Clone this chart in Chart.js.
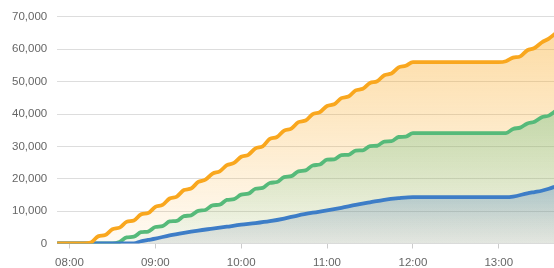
<!DOCTYPE html>
<html><head><meta charset="utf-8">
<script src="https://cdn.jsdelivr.net/npm/chart.js@4.4.1/dist/chart.umd.min.js"></script>
<style>html,body{margin:0;padding:0;background:#fff;}canvas{display:block;}</style>
</head><body>
<canvas id="c" width="554" height="268"></canvas>
<script>
const times = ['07:50','07:55','08:00','08:05','08:10','08:15','08:20','08:25','08:30','08:35','08:40','08:45','08:50','08:55',
'09:00','09:05','09:10','09:15','09:20','09:25','09:30','09:35','09:40','09:45','09:50','09:55',
'10:00','10:05','10:10','10:15','10:20','10:25','10:30','10:35','10:40','10:45','10:50','10:55',
'11:00','11:05','11:10','11:15','11:20','11:25','11:30','11:35','11:40','11:45','11:50','11:55',
'12:00','12:05','12:10','12:15','12:20','12:25','12:30','12:35','12:40','12:45','12:50','12:55',
'13:00','13:05','13:10','13:15','13:20','13:25','13:30','13:35','13:40'];
const orangeValues = [0,0,0,0,0,300,2200,2600,4400,4900,6700,7100,9000,9400,
11300,11900,13900,14500,16500,17000,19000,19700,21600,22300,24200,24900,
26800,27400,29400,30000,32300,32900,34900,35500,37500,38000,40000,40600,
42500,43000,44900,45400,47300,47800,49600,50100,52000,52500,54400,54900,
56000,56000,56000,56000,56000,56000,56000,56000,56000,56000,56000,56000,
56000,56300,57400,57800,59700,60400,62100,63300,65000];
const greenValues = [0,0,0,0,0,0,0,0,0,500,1900,2100,3500,3700,
5100,5350,6800,7000,8450,8700,10100,10350,11800,12000,13450,13700,
15100,15400,16900,17200,18700,19000,20500,20800,22300,22600,24100,24400,
25900,26000,27300,27400,28700,28800,30100,30200,31500,31600,32900,33000,
34100,34100,34100,34100,34100,34100,34100,34100,34100,34100,34100,34100,
34100,34100,35400,35800,37100,37600,39000,39500,41000];
const blueTimes = ['07:50','08:40','08:45','08:50','08:55','09:00','09:10','09:20','09:30','09:40','09:50',
'10:00','10:10','10:20','10:30','10:40','10:50','11:00','11:10','11:20','11:30','11:40','11:50','12:00',
'13:05','13:10','13:20','13:25','13:30','13:35','13:40'];
const blueValues = [0,0,0,700,1100,1500,2500,3300,4000,4600,5200,
5800,6300,6900,7700,8700,9500,10200,11000,11900,12700,13500,14000,14300,
14300,14500,15500,15900,16300,16900,17700];
const xTickLabels = ['08:00','09:00','10:00','11:00','12:00','13:00'];

function toMin(s){const p=s.split(':').map(Number);return p[0]*60+p[1];}
const pts = (ts, vs) => ts.map((t,i)=>({x:toMin(t), y:vs[i]}));

function grad(rgbTop, aTop, rgbBot, aBot, vals){
  const maxVal = Math.max.apply(null, vals);
  return (ctx) => {
    const chart = ctx.chart; if(!chart.chartArea) return 'rgba(0,0,0,0)';
    const y = chart.scales.y;
    const top = y.getPixelForValue(maxVal), bot = y.getPixelForValue(0);
    const g = chart.ctx.createLinearGradient(0, top, 0, bot);
    g.addColorStop(0, 'rgba(' + rgbTop + ',' + aTop + ')');
    g.addColorStop(1, 'rgba(' + rgbBot + ',' + aBot + ')');
    return g;
  };
}
const ORANGE = '249,167,30', GREEN = '86,186,122', BLUE = '61,125,199';
const common = {pointRadius:0, cubicInterpolationMode:'monotone', borderJoinStyle:'round', borderCapStyle:'round'};
const orangeData = pts(times, orangeValues), greenData = pts(times, greenValues), blueData = pts(blueTimes, blueValues);
const FONT = {family:'Liberation Sans, Arial, sans-serif', size:11.5};

new Chart(document.getElementById('c'), {
  type: 'line',
  data: { datasets: [
    Object.assign({label:'orange line', data: orangeData, borderColor:'rgb('+ORANGE+')', borderWidth:3.8, fill:false, order:1}, common),
    Object.assign({label:'blue line', data: blueData, borderColor:'rgb('+BLUE+')', borderWidth:3.8, fill:false, order:2}, common),
    Object.assign({label:'green line', data: greenData, borderColor:'rgb('+GREEN+')', borderWidth:3.8, fill:false, order:3}, common),
    Object.assign({label:'blue area', data: blueData, borderWidth:0, borderColor:'rgba(0,0,0,0)', fill:'origin', backgroundColor: grad(BLUE,0.32,'120,135,150',0.15, blueValues), order:10}, common),
    Object.assign({label:'green area', data: greenData, borderWidth:0, borderColor:'rgba(0,0,0,0)', fill:'origin', backgroundColor: grad(GREEN,0.35,GREEN,0.05, greenValues), order:11}, common),
    Object.assign({label:'orange area', data: orangeData, borderWidth:0, borderColor:'rgba(0,0,0,0)', fill:'origin', backgroundColor: grad(ORANGE,0.40,ORANGE,0.05, orangeValues), order:12}, common)
  ]},
  options: {
    responsive:false, animation:false, devicePixelRatio:1,
    layout:{padding:{left:2,right:0,top:11,bottom:0}},
    plugins:{legend:{display:false}, tooltip:{enabled:false}},
    scales:{
      x:{type:'linear', min:471.4, max:818.6,
        afterBuildTicks:(s)=>{ s.ticks = xTickLabels.map(l=>({value:toMin(l)})); },
        afterFit:(s)=>{ s.height = 24.5; },
        ticks:{callback:(v,i)=>xTickLabels[i], color:'#666', font:FONT, padding:7, maxRotation:0, autoSkip:false},
        grid:{drawOnChartArea:false, drawTicks:true, tickLength:5, color:'#cccccc'},
        border:{display:false}
      },
      y:{min:0, max:70000,
        ticks:{stepSize:10000, callback:(v)=>v.toLocaleString('en-US'), color:'#666', font:FONT, padding:10},
        grid:{color:'#dddddd', lineWidth:1, drawTicks:false},
        border:{display:false}
      }
    }
  }
});
</script>
</body></html>
